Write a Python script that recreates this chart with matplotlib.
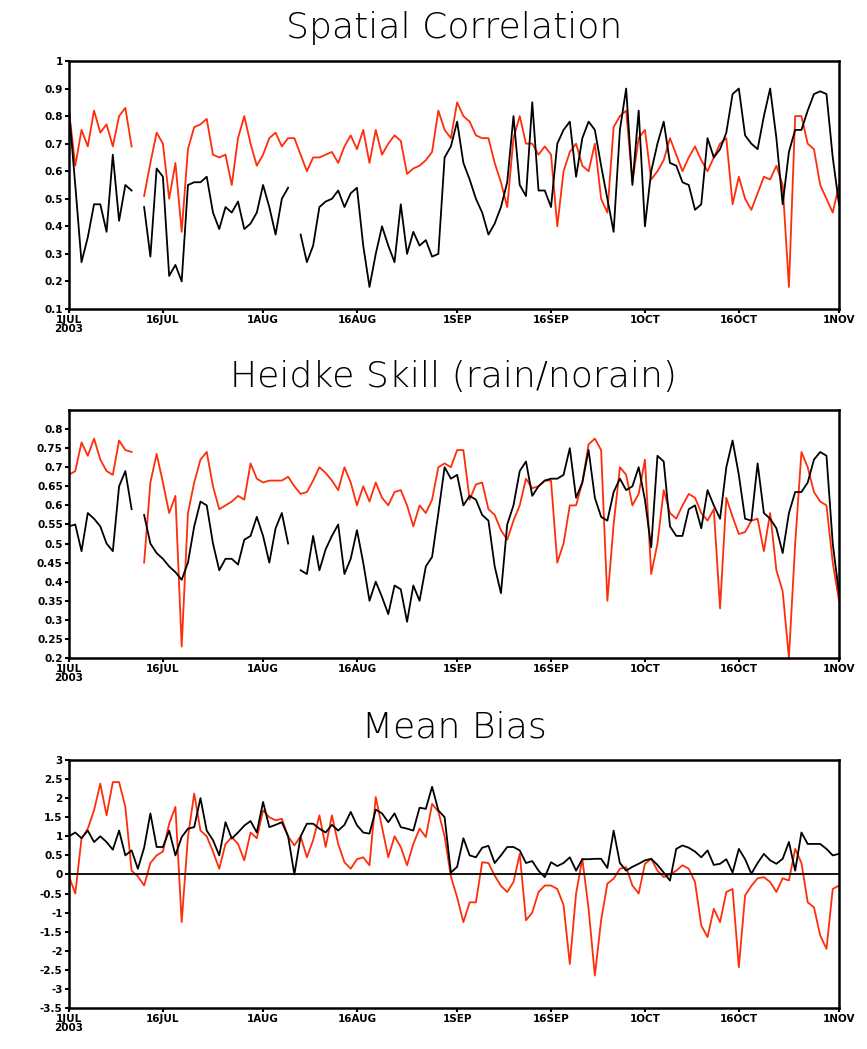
import matplotlib
matplotlib.use("Agg")
import matplotlib.pyplot as plt
import numpy as np
import pandas as pd

nan = np.nan
dates = pd.date_range("2003-07-01", "2003-11-01", freq="D")

# Spatial Correlation
sc_black = [0.82, 0.55, 0.27, 0.36, 0.48, 0.48, 0.38, 0.66, 0.42, 0.55,
            0.53, nan, 0.47, 0.29, 0.61, 0.58, 0.22, 0.26, 0.20, 0.55,
            0.56, 0.56, 0.58, 0.45, 0.39, 0.47, 0.45, 0.49, 0.39, 0.41,
            0.45, 0.55, 0.47, 0.37, 0.50, 0.54, nan, 0.37, 0.27, 0.33,
            0.47, 0.49, 0.50, 0.53, 0.47, 0.52, 0.54, 0.33, 0.18, 0.30,
            0.40, 0.33, 0.27, 0.48, 0.30, 0.38, 0.33, 0.35, 0.29, 0.30,
            0.65, 0.69, 0.78, 0.63, 0.57, 0.50, 0.45, 0.37, 0.41, 0.47,
            0.56, 0.80, 0.55, 0.51, 0.85, 0.53, 0.53, 0.47, 0.70, 0.75,
            0.78, 0.58, 0.72, 0.78, 0.75, 0.62, 0.50, 0.38, 0.75, 0.90,
            0.55, 0.82, 0.40, 0.60, 0.70, 0.78, 0.63, 0.62, 0.56, 0.55,
            0.46, 0.48, 0.72, 0.65, 0.68, 0.74, 0.88, 0.90, 0.73, 0.70,
            0.68, 0.80, 0.90, 0.72, 0.48, 0.67, 0.75, 0.75, 0.82, 0.88,
            0.89, 0.88, 0.65, 0.48]
sc_red = [0.82, 0.62, 0.75, 0.69, 0.82, 0.74, 0.77, 0.69, 0.80, 0.83,
          0.69, nan, 0.51, 0.63, 0.74, 0.70, 0.50, 0.63, 0.38, 0.68,
          0.76, 0.77, 0.79, 0.66, 0.65, 0.66, 0.55, 0.72, 0.80, 0.70,
          0.62, 0.66, 0.72, 0.74, 0.69, 0.72, 0.72, 0.66, 0.60, 0.65,
          0.65, 0.66, 0.67, 0.63, 0.69, 0.73, 0.68, 0.75, 0.63, 0.75,
          0.66, 0.70, 0.73, 0.71, 0.59, 0.61, 0.62, 0.64, 0.67, 0.82,
          0.75, 0.72, 0.85, 0.80, 0.78, 0.73, 0.72, 0.72, 0.63, 0.56,
          0.47, 0.72, 0.80, 0.70, 0.70, 0.66, 0.69, 0.66, 0.40, 0.60,
          0.67, 0.70, 0.62, 0.60, 0.70, 0.50, 0.45, 0.76, 0.80, 0.82,
          0.56, 0.72, 0.75, 0.57, 0.60, 0.64, 0.72, 0.66, 0.60, 0.65,
          0.69, 0.64, 0.60, 0.65, 0.70, 0.72, 0.48, 0.58, 0.50, 0.46,
          0.52, 0.58, 0.57, 0.62, 0.55, 0.18, 0.80, 0.80, 0.70, 0.68,
          0.55, 0.50, 0.45, 0.55]

# Heidke Skill
hs_black = [0.545, 0.55, 0.48, 0.58, 0.565, 0.545, 0.50, 0.48, 0.65, 0.69,
            0.59, nan, 0.575, 0.50, 0.475, 0.46, 0.44, 0.425, 0.405, 0.45,
            0.545, 0.61, 0.60, 0.50, 0.43, 0.46, 0.46, 0.445, 0.51, 0.52,
            0.57, 0.52, 0.45, 0.54, 0.58, 0.50, nan, 0.43, 0.42, 0.52,
            0.43, 0.485, 0.52, 0.55, 0.42, 0.46, 0.535, 0.45, 0.35, 0.40,
            0.36, 0.315, 0.39, 0.38, 0.295, 0.39, 0.35, 0.44, 0.465, 0.58,
            0.70, 0.67, 0.68, 0.60, 0.625, 0.615, 0.575, 0.56, 0.44, 0.37,
            0.55, 0.60, 0.69, 0.715, 0.625, 0.65, 0.665, 0.67, 0.67, 0.68,
            0.75, 0.62, 0.66, 0.745, 0.62, 0.57, 0.56, 0.635, 0.67, 0.64,
            0.65, 0.70, 0.615, 0.49, 0.73, 0.715, 0.545, 0.52, 0.52, 0.59,
            0.60, 0.54, 0.64, 0.60, 0.565, 0.70, 0.77, 0.68, 0.565, 0.56,
            0.71, 0.58, 0.565, 0.54, 0.475, 0.58, 0.635, 0.635, 0.66, 0.72,
            0.74, 0.73, 0.50, 0.37]
hs_red = [0.68, 0.69, 0.765, 0.73, 0.775, 0.72, 0.69, 0.68, 0.77, 0.745,
          0.74, nan, 0.45, 0.66, 0.735, 0.66, 0.58, 0.625, 0.23, 0.58,
          0.66, 0.72, 0.74, 0.65, 0.59, 0.60, 0.61, 0.625, 0.615, 0.71,
          0.67, 0.66, 0.665, 0.665, 0.665, 0.675, 0.65, 0.63, 0.635, 0.665,
          0.70, 0.685, 0.665, 0.64, 0.70, 0.66, 0.60, 0.65, 0.61, 0.66,
          0.62, 0.60, 0.635, 0.64, 0.60, 0.545, 0.60, 0.58, 0.615, 0.70,
          0.71, 0.70, 0.745, 0.745, 0.615, 0.655, 0.66, 0.59, 0.575, 0.535,
          0.51, 0.56, 0.60, 0.67, 0.645, 0.65, 0.665, 0.665, 0.45, 0.50,
          0.60, 0.60, 0.66, 0.76, 0.775, 0.745, 0.35, 0.55, 0.70, 0.68,
          0.60, 0.63, 0.72, 0.42, 0.50, 0.64, 0.58, 0.565, 0.60, 0.63,
          0.62, 0.58, 0.56, 0.59, 0.33, 0.62, 0.57, 0.525, 0.53, 0.56,
          0.565, 0.48, 0.58, 0.43, 0.375, 0.20, 0.50, 0.74, 0.70, 0.635,
          0.61, 0.60, 0.45, 0.35]

# Mean Bias
mb_black = [1.0, 1.1, 0.95, 1.15, 0.85, 1.0, 0.85, 0.65, 1.15, 0.5,
            0.63, 0.15, 0.7, 1.6, 0.72, 0.72, 1.15, 0.5, 0.98, 1.2,
            1.24, 2.0, 1.15, 0.9, 0.5, 1.37, 0.94, 1.1, 1.28, 1.4,
            1.1, 1.9, 1.24, 1.3, 1.37, 1.0, 0.0, 1.0, 1.33, 1.33,
            1.2, 1.1, 1.3, 1.15, 1.3, 1.64, 1.29, 1.1, 1.07, 1.7,
            1.6, 1.37, 1.6, 1.24, 1.2, 1.15, 1.75, 1.72, 2.3, 1.68,
            1.5, 0.05, 0.2, 0.95, 0.5, 0.45, 0.7, 0.75, 0.3, 0.5,
            0.72, 0.72, 0.63, 0.3, 0.35, 0.1, -0.07, 0.32, 0.22, 0.3,
            0.45, 0.1, 0.4, 0.4, 0.41, 0.41, 0.17, 1.15, 0.3, 0.1,
            0.2, 0.28, 0.37, 0.41, 0.25, 0.05, -0.16, 0.67, 0.76, 0.7,
            0.6, 0.45, 0.63, 0.25, 0.28, 0.4, 0.05, 0.67, 0.4, 0.02,
            0.3, 0.54, 0.37, 0.28, 0.41, 0.85, 0.1, 1.1, 0.8, 0.8,
            0.8, 0.67, 0.5, 0.54]
mb_red = [-0.05, -0.5, 0.94, 1.2, 1.68, 2.38, 1.55, 2.42, 2.42, 1.77,
          0.1, -0.05, -0.29, 0.3, 0.5, 0.6, 1.33, 1.77, -1.25, 0.98,
          2.12, 1.15, 1.0, 0.6, 0.15, 0.8, 0.98, 0.8, 0.37, 1.1,
          0.95, 1.68, 1.5, 1.42, 1.46, 1.0, 0.76, 1.0, 0.45, 0.9,
          1.55, 0.72, 1.55, 0.8, 0.32, 0.15, 0.4, 0.45, 0.24, 2.03,
          1.24, 0.45, 1.0, 0.72, 0.24, 0.8, 1.2, 0.98, 1.85, 1.65,
          1.0, -0.05, -0.6, -1.25, -0.73, -0.73, 0.32, 0.3, -0.03, -0.3,
          -0.46, -0.2, 0.54, -1.2, -1.0, -0.46, -0.29, -0.29, -0.38, -0.8,
          -2.35, -0.5, 0.41, -0.9, -2.65, -1.2, -0.24, -0.11, 0.15, 0.19,
          -0.29, -0.5, 0.28, 0.41, 0.1, -0.07, 0.0, 0.1, 0.24, 0.15,
          -0.2, -1.34, -1.64, -0.9, -1.25, -0.46, -0.38, -2.43, -0.55, -0.3,
          -0.1, -0.07, -0.2, -0.46, -0.1, -0.16, 0.67, 0.3, -0.73, -0.86,
          -1.6, -1.95, -0.38, -0.29]

tick_dates = pd.to_datetime(["2003-07-01", "2003-07-16", "2003-08-01", "2003-08-16",
                             "2003-09-01", "2003-09-16", "2003-10-01", "2003-10-16",
                             "2003-11-01"])
tick_labels = ["1JUL\n2003", "16JUL", "1AUG", "16AUG", "1SEP", "16SEP",
               "1OCT", "16OCT", "1NOV"]

titles = ["Spatial Correlation", "Heidke Skill (rain/norain)", "Mean Bias"]
ylims = [(0.1, 1.0), (0.2, 0.85), (-3.5, 3.0)]
yticks = [np.arange(0.1, 1.001, 0.1), np.arange(0.2, 0.801, 0.05), np.arange(-3.5, 3.001, 0.5)]
ylabels = [["0.1", "0.2", "0.3", "0.4", "0.5", "0.6", "0.7", "0.8", "0.9", "1"],
           ["0.2", "0.25", "0.3", "0.35", "0.4", "0.45", "0.5", "0.55", "0.6",
            "0.65", "0.7", "0.75", "0.8"],
           ["-3.5", "-3", "-2.5", "-2", "-1.5", "-1", "-0.5", "0", "0.5", "1",
            "1.5", "2", "2.5", "3"]]
series = [(sc_black, sc_red), (hs_black, hs_red), (mb_black, mb_red)]

W, H = 867, 1049
fig = plt.figure(figsize=(W / 100, H / 100), dpi=100)
fig.patch.set_facecolor("white")

left, right = 69, 839
tops = [61, 410, 760]
ph = 248
red = "#ff2d0a"

for i in range(3):
    ax = fig.add_axes([left / W, 1 - (tops[i] + ph) / H, (right - left) / W, ph / H])
    b, r = series[i]
    ax.plot(dates, r, color=red, lw=1.3)
    ax.plot(dates, b, color="black", lw=1.3)
    if i == 2:
        ax.axhline(0, color="black", lw=1.3)
    ax.set_xlim(dates[0], dates[-1])
    ax.set_ylim(*ylims[i])
    ax.set_yticks(yticks[i])
    ax.set_yticklabels(ylabels[i], fontsize=7.5, fontweight="bold")
    ax.set_xticks(tick_dates)
    ax.set_xticklabels(tick_labels, fontsize=7.5, fontweight="bold", linespacing=0.9)
    ax.tick_params(direction="out", length=3, width=1.5, pad=1.5)
    for s in ax.spines.values():
        s.set_linewidth(1.8)
    fig.text((left + right) / 2 / W, 1 - (tops[i] - 23) / H, titles[i],
             ha="center", va="baseline", fontsize=26, fontweight="light",
             family="DejaVu Sans")

fig.savefig("out.png", dpi=100)
